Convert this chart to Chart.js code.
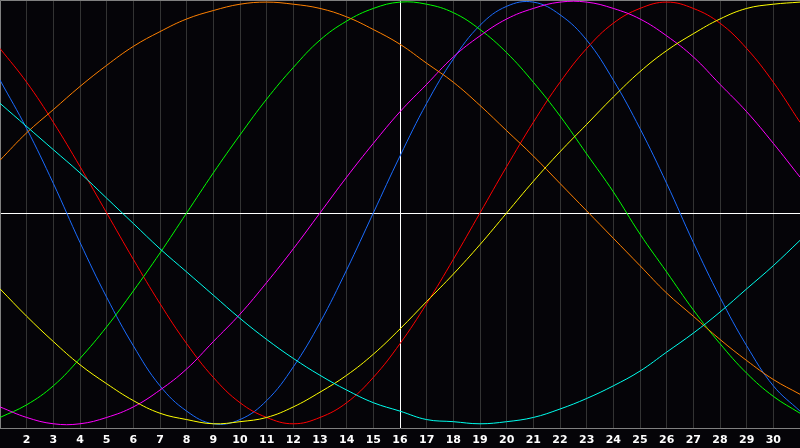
<!DOCTYPE html>
<html lang="en">

<head>
    <meta charset="UTF-8">
    <title>Biorhythm</title>
    <script src="https://cdn.jsdelivr.net/npm/chart.js"></script>
    <style>
        html, body { margin: 0; padding: 0; background: #050408; }
        #wrap { width: 800px; height: 448px; }
    </style>
</head>

<body>
    <div id="wrap"><canvas id="bioChart"></canvas></div>

    <script>
        const days = [1, 2, 3, 4, 5, 6, 7, 8, 9, 10, 11, 12, 13, 14, 15, 16,
            17, 18, 19, 20, 21, 22, 23, 24, 25, 26, 27, 28, 29, 30, 31];
        const today = 16;

        const blueVals = [0.63, 0.40, 0.14, -0.14, -0.40, -0.63, -0.82, -0.94, -1.00, -0.98, -0.89, -0.73, -0.52, -0.27, 0.00, 0.27,
            0.52, 0.73, 0.89, 0.98, 1.00, 0.94, 0.82, 0.63, 0.40, 0.14, -0.14, -0.40, -0.63, -0.82, -0.94];
        const redVals = [0.78, 0.62, 0.43, 0.22, 0.00, -0.22, -0.43, -0.62, -0.78, -0.90, -0.97, -1.00, -0.97, -0.90, -0.78, -0.62,
            -0.43, -0.22, 0.00, 0.22, 0.43, 0.62, 0.78, 0.90, 0.97, 1.00, 0.97, 0.90, 0.78, 0.62, 0.43];
        const greenVals = [-0.97, -0.91, -0.82, -0.69, -0.54, -0.37, -0.19, 0.00, 0.19, 0.37, 0.54, 0.69, 0.82, 0.91, 0.97, 1.00,
            0.99, 0.95, 0.87, 0.76, 0.62, 0.46, 0.28, 0.10, -0.10, -0.28, -0.46, -0.62, -0.76, -0.87, -0.95];
        const magentaVals = [-0.92, -0.97, -1.00, -1.00, -0.97, -0.92, -0.84, -0.74, -0.61, -0.48, -0.33, -0.17, 0.00, 0.17, 0.33, 0.48,
            0.61, 0.74, 0.84, 0.92, 0.97, 1.00, 1.00, 0.97, 0.92, 0.84, 0.74, 0.61, 0.48, 0.33, 0.17];
        const yellowVals = [-0.36, -0.49, -0.61, -0.72, -0.81, -0.89, -0.95, -0.98, -1.00, -0.99, -0.97, -0.92, -0.85, -0.77, -0.67, -0.55,
            -0.42, -0.29, -0.15, 0.00, 0.15, 0.29, 0.42, 0.55, 0.67, 0.77, 0.85, 0.92, 0.97, 0.99, 1.00];
        const cyanVals = [0.52, 0.41, 0.30, 0.19, 0.07, -0.05, -0.17, -0.28, -0.39, -0.50, -0.60, -0.69, -0.77, -0.84, -0.90, -0.94,
            -0.98, -0.99, -1.00, -0.99, -0.97, -0.93, -0.88, -0.82, -0.75, -0.66, -0.57, -0.47, -0.36, -0.25, -0.13];
        const orangeVals = [0.25, 0.38, 0.49, 0.60, 0.70, 0.79, 0.86, 0.92, 0.96, 0.99, 1.00, 0.99, 0.97, 0.93, 0.87, 0.80,
            0.71, 0.62, 0.51, 0.39, 0.27, 0.14, 0.01, -0.12, -0.25, -0.38, -0.49, -0.60, -0.70, -0.79, -0.86];

        function line(data, color) {
            return {
                data: data,
                borderColor: color,
                borderWidth: 1,
                pointRadius: 0,
                tension: 0.4,
                fill: false
            };
        }

        // background, frame and the zero line
        const framePlugin = {
            id: 'frame',
            beforeDraw(chart) {
                const c = chart.ctx;
                c.save();
                c.fillStyle = '#050408';
                c.fillRect(0, 0, chart.width, chart.height);
                c.restore();
            },
            beforeDatasetsDraw(chart) {
                const c = chart.ctx;
                const a = chart.chartArea;
                const y0 = Math.round(chart.scales.y.getPixelForValue(0)) + 0.5;
                c.save();
                c.strokeStyle = '#ffffff';
                c.lineWidth = 1;
                c.beginPath();
                c.moveTo(a.left, y0);
                c.lineTo(a.right, y0);
                c.stroke();
                c.strokeStyle = '#808080';
                c.beginPath();
                c.moveTo(a.left + 0.5, a.bottom);
                c.lineTo(a.left + 0.5, a.top + 0.5);
                c.lineTo(a.right, a.top + 0.5);
                c.stroke();
                c.restore();
            }
        };

        function generateGraph() {
            const ctx = document.getElementById('bioChart').getContext('2d');
            const config = {
                type: 'line',
                data: {
                    labels: days,
                    datasets: [
                        line(cyanVals, '#00ffee'),
                        line(yellowVals, '#ffff00'),
                        line(orangeVals, '#ff8000'),
                        line(magentaVals, '#ff00ff'),
                        line(greenVals, '#00ff00'),
                        line(redVals, '#ff0000'),
                        line(blueVals, '#1a6cff')
                    ]
                },
                plugins: [framePlugin],
                options: {
                    responsive: true,
                    maintainAspectRatio: false,
                    animation: false,
                    layout: { padding: 0 },
                    scales: {
                        x: {
                            type: 'category',
                            offset: false,
                            afterFit(scale) {
                                scale.paddingLeft = 0;
                                scale.paddingRight = 0;
                                scale.paddingTop = 0;
                                scale.paddingBottom = 0;
                                scale.height = 20;
                            },
                            grid: {
                                drawTicks: false,
                                color: (c) => (days[c.index] === today ? '#ffffff' : '#333333'),
                                lineWidth: 1
                            },
                            border: { display: true, color: '#808080' },
                            ticks: {
                                autoSkip: false,
                                maxRotation: 0,
                                padding: 6,
                                color: '#ffffff',
                                font: { family: 'DejaVu Sans', size: 11, weight: 'bold' },
                                callback: function (v, i) {
                                    const d = days[i];
                                    return (d === days[0] || d === days[days.length - 1]) ? '' : String(d);
                                }
                            }
                        },
                        y: {
                            display: false,
                            min: -1.02,
                            max: 1.01
                        }
                    },
                    plugins: {
                        legend: { display: false },
                        tooltip: { enabled: false }
                    }
                }
            };
            new Chart(ctx, config);
        }

        document.addEventListener("DOMContentLoaded", () => {
            generateGraph();
        });
    </script>
</body>

</html>
